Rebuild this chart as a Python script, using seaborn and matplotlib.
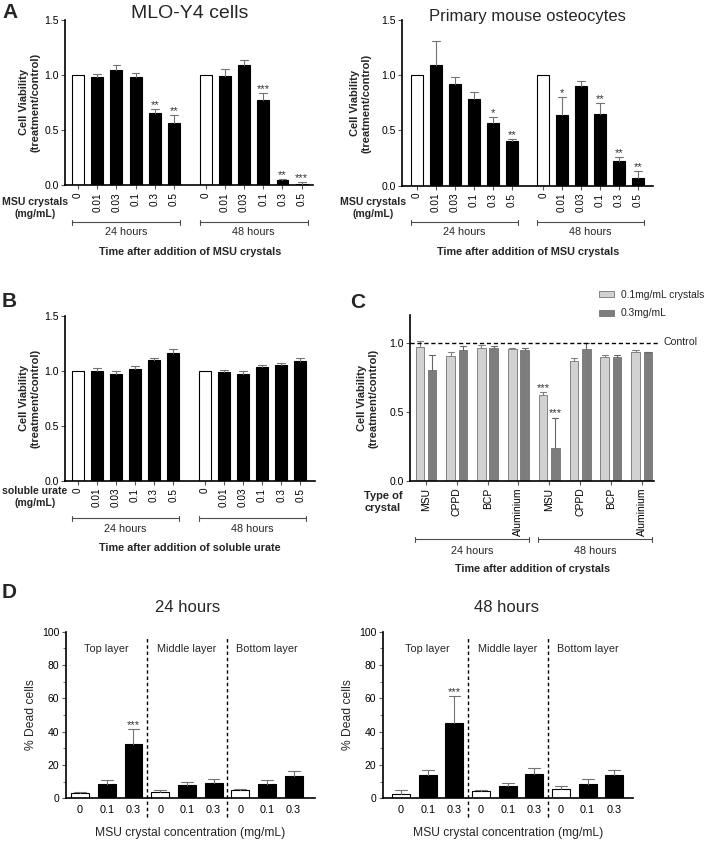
import numpy as np
import pandas as pd
import matplotlib.pyplot as plt
import seaborn as sns

# ---------------- data ----------------
conc = ['0', '0.01', '0.03', '0.1', '0.3', '0.5']

# A, MLO-Y4 cells + MSU crystals
mlo_24 = [1.0, 0.98, 1.05, 0.985, 0.655, 0.565]
mlo_24_err = [0.0, 0.025, 0.04, 0.03, 0.035, 0.07]
mlo_48 = [1.0, 0.995, 1.09, 0.775, 0.045, 0.006]
mlo_48_err = [0.0, 0.06, 0.048, 0.058, 0.008, 0.018]
mlo_sig = ['', '', '', '', '**', '**', '', '', '', '***', '**', '***']

# A, primary mouse osteocytes + MSU crystals
pri_24 = [1.0, 1.09, 0.918, 0.788, 0.57, 0.403]
pri_24_err = [0.0, 0.22, 0.067, 0.062, 0.05, 0.017]
pri_48 = [1.0, 0.642, 0.906, 0.652, 0.227, 0.073]
pri_48_err = [0.0, 0.16, 0.046, 0.098, 0.037, 0.06]
pri_sig = ['', '', '', '', '*', '**', '', '*', '', '**', '**', '**']

# B, soluble urate
ur_24 = [1.0, 1.0, 0.976, 1.018, 1.097, 1.166]
ur_24_err = [0.0, 0.027, 0.024, 0.03, 0.023, 0.036]
ur_48 = [1.0, 0.994, 0.97, 1.033, 1.057, 1.088]
ur_48_err = [0.0, 0.012, 0.03, 0.018, 0.013, 0.03]
ur_sig = [''] * 12

# C, crystal types
crystals = ['MSU', 'CPPD', 'BCP', 'Aluminium']
dose_names = ['0.1mg/mL crystals', '0.3mg/mL']
lo_24 = [0.969, 0.906, 0.959, 0.957]
lo_24_err = [0.043, 0.029, 0.022, 0.005]
hi_24 = [0.80, 0.945, 0.964, 0.945]
hi_24_err = [0.111, 0.033, 0.009, 0.016]
lo_48 = [0.619, 0.87, 0.899, 0.935]
lo_48_err = [0.02, 0.02, 0.009, 0.014]
hi_48 = [0.239, 0.952, 0.899, 0.93]
hi_48_err = [0.216, 0.048, 0.014, 0.005]
lo_sig = ['', '', '', '', '***', '', '', '']
hi_sig = ['', '', '', '', '***', '', '', '']

# D, dead cells per layer
dose = ['0', '0.1', '0.3']
layers = ['Top layer', 'Middle layer', 'Bottom layer']
d24 = [3.2, 8.4, 32.6, 3.8, 7.8, 9.0, 4.8, 8.6, 13.2]
d24_err = [0.8, 2.6, 9.0, 1.2, 1.8, 2.4, 0.6, 2.4, 3.0]
d24_sig = ['', '', '***', '', '', '', '', '', '']
d48 = [2.8, 13.8, 45.0, 4.2, 7.4, 14.6, 5.6, 8.6, 14.0]
d48_err = [2.0, 3.2, 16.4, 0.8, 1.6, 3.6, 1.8, 2.8, 2.8]
d48_sig = ['', '', '***', '', '', '', '', '', '']

# ---------------- style ----------------
sns.set_style('ticks')
plt.rcParams['font.family'] = ['Liberation Sans', 'DejaVu Sans']
plt.rcParams['axes.linewidth'] = 1.2
plt.rcParams['axes.edgecolor'] = 'black'
plt.rcParams['xtick.color'] = '0.35'
plt.rcParams['ytick.color'] = '0.35'
plt.rcParams['xtick.labelcolor'] = 'black'
plt.rcParams['ytick.labelcolor'] = 'black'
plt.rcParams['xtick.major.size'] = 3
plt.rcParams['ytick.major.size'] = 3
plt.rcParams['xtick.major.pad'] = 2
plt.rcParams['ytick.major.pad'] = 1.5

W, H = 709, 842
fig = plt.figure(figsize=(W / 100, H / 100), dpi=100)
ERR = '0.45'


def box(r):
    l, t, rr, b = r
    return [l / W, 1 - b / H, (rr - l) / W, (b - t) / H]


def yfrac(r, ypx):
    return (r[3] - ypx) / (r[3] - r[1])


def ftext(x, y, s, **kw):
    fig.text(x / W, 1 - y / H, s, **kw)


def add_err(ax, xs, ys, es, cw, color=ERR):
    for x, y, e in zip(xs, ys, es):
        if e <= 0:
            continue
        ax.plot([x, x], [y, y + e], color=color, lw=0.8, zorder=3)
        ax.plot([x - cw, x + cw], [y + e, y + e], color=color, lw=0.8, zorder=3)


def add_sig(ax, xs, ys, es, sig, off):
    for x, y, e, s in zip(xs, ys, es, sig):
        if s:
            ax.text(x, y + e + off, s, ha='center', va='bottom', fontsize=8,
                    color='0.2')


def bracket(ax, r, x0, x1, ypx):
    y = yfrac(r, ypx)
    tr = ax.get_xaxis_transform()
    kw = dict(transform=tr, clip_on=False, color='0.3', lw=0.8)
    ax.plot([x0, x1], [y, y], **kw)
    d = 2.5 / (r[3] - r[1])
    ax.plot([x0, x0], [y - d, y + d], **kw)
    ax.plot([x1, x1], [y - d, y + d], **kw)


GAP = 6.65
W_BAR = 0.62


def viab_panel(r, m24, e24, m48, e48, sig, xlim, ys):
    ax = fig.add_axes(box(r))
    pos = np.r_[np.arange(6), np.arange(6) + GAP]
    vals = m24 + m48
    errs = e24 + e48
    df = pd.DataFrame({'pos': pos, 'val': vals,
                       'grp': (['ctrl'] + ['trt'] * 5) * 2})
    sns.barplot(data=df, x='pos', y='val', hue='grp',
                palette={'ctrl': 'white', 'trt': 'black'},
                native_scale=True, dodge=False, width=W_BAR, orient='x',
                edgecolor='black', linewidth=0.8, errorbar=None,
                legend=False, ax=ax)
    add_err(ax, pos, vals, errs, 0.2)
    add_sig(ax, pos, vals, errs, sig, -0.01)
    ax.set_xlim(*xlim)
    ax.set_ylim(0, 1.5)
    ax.set_yticks([0, 0.5, 1.0, 1.5])
    ax.set_yticklabels(['0.0', '0.5', '1.0', '1.5'], fontsize=7.5)
    ax.set_xticks(pos)
    ax.set_xticklabels(conc * 2, rotation=90, fontsize=7.2)
    ax.set_xlabel('')
    ax.set_ylabel('')
    sns.despine(ax=ax)
    h = W_BAR / 2
    bracket(ax, r, -h, 5 + h, ys[0])
    bracket(ax, r, GAP - h, GAP + 5 + h, ys[0])
    tr = ax.get_xaxis_transform()
    ax.text(2.5, yfrac(r, ys[1]), '24 hours', transform=tr, ha='center',
            va='center', fontsize=7.8)
    ax.text(GAP + 2.5, yfrac(r, ys[1]), '48 hours', transform=tr,
            ha='center', va='center', fontsize=7.8)
    return ax


# ---------------- panel A ----------------
rA1 = (65, 20, 313, 185)
viab_panel(rA1, mlo_24, mlo_24_err, mlo_48, mlo_48_err, mlo_sig,
           (-0.68, 12.24), (222, 232))
ftext(190, 14, 'MLO-Y4 cells', ha='center', va='center', fontsize=14)
ftext(30, 102, 'Cell Viability\n(treatment/control)', rotation=90,
      ha='center', va='center', fontsize=8, fontweight='bold',
      multialignment='center')
ftext(35, 208, 'MSU crystals\n(mg/mL)', ha='center', va='center',
      fontsize=7.6, fontweight='bold', multialignment='center')
ftext(190, 252, 'Time after addition of MSU crystals', ha='center',
      va='center', fontsize=7.8, fontweight='bold')

rA2 = (402, 20, 653, 185.7)
viab_panel(rA2, pri_24, pri_24_err, pri_48, pri_48_err, pri_sig,
           (-0.79, 12.44), (222, 232))
ftext(527, 16, 'Primary mouse osteocytes', ha='center', va='center',
      fontsize=12)
ftext(361, 103, 'Cell Viability\n(treatment/control)', rotation=90,
      ha='center', va='center', fontsize=8, fontweight='bold',
      multialignment='center')
ftext(373, 208, 'MSU crystals\n(mg/mL)', ha='center', va='center',
      fontsize=7.6, fontweight='bold', multialignment='center')
ftext(528, 252, 'Time after addition of MSU crystals', ha='center',
      va='center', fontsize=7.8, fontweight='bold')

# ---------------- panel B ----------------
rB = (65, 316, 315, 480.7)
viab_panel(rB, ur_24, ur_24_err, ur_48, ur_48_err, ur_sig,
           (-0.66, 12.42), (518, 529))
ftext(30, 398, 'Cell Viability\n(treatment/control)', rotation=90,
      ha='center', va='center', fontsize=8, fontweight='bold',
      multialignment='center')
ftext(35, 497, 'soluble urate\n(mg/mL)', ha='center', va='center',
      fontsize=7.6, fontweight='bold', multialignment='center')
ftext(190, 548, 'Time after addition of soluble urate', ha='center',
      va='center', fontsize=7.8, fontweight='bold')

# ---------------- panel C ----------------
rC = (410, 315, 654, 480.7)
axc = fig.add_axes(box(rC))
grp = np.arange(8)
lo_vals = lo_24 + lo_48
hi_vals = hi_24 + hi_48
lo_errs = lo_24_err + lo_48_err
hi_errs = hi_24_err + hi_48_err
df_c = pd.DataFrame({'grp': np.tile(grp, 2),
                     'dose': [dose_names[0]] * 8 + [dose_names[1]] * 8,
                     'val': lo_vals + hi_vals})
sns.barplot(data=df_c, x='grp', y='val', hue='dose', hue_order=dose_names,
            palette=['#d2d2d2', '#7d7d7d'], width=0.8, gap=0.3,
            edgecolor='0.45', linewidth=0.6, errorbar=None, ax=axc)
add_err(axc, grp - 0.2, lo_vals, lo_errs, 0.1, '0.5')
add_err(axc, grp + 0.2, hi_vals, hi_errs, 0.1, '0.4')
add_sig(axc, grp - 0.2, lo_vals, lo_errs, lo_sig, -0.005)
add_sig(axc, grp + 0.2, hi_vals, hi_errs, hi_sig, -0.005)
axc.set_xlim(-0.52, 7.4)
axc.set_ylim(0, 1.2)
axc.set_yticks([0, 0.5, 1.0])
axc.set_yticklabels(['0.0', '0.5', '1.0'], fontsize=7.5)
axc.set_xticks(grp)
axc.set_xticklabels(crystals * 2, rotation=90, fontsize=7.5)
axc.set_xlabel('')
axc.set_ylabel('')
sns.despine(ax=axc)
axc.plot([-0.52, 7.6], [1, 1], ls=(0, (3, 2)), color='black', lw=1.0,
         clip_on=False, zorder=4)
ftext(663, 342, 'Control', ha='left', va='center', fontsize=7.6)
hd, lb = axc.get_legend_handles_labels()
axc.legend(hd, lb, loc='upper left', bbox_to_anchor=(599 / W, 1 - 290 / H),
           bbox_transform=fig.transFigure, frameon=False, fontsize=7.4,
           handlelength=1.5, handleheight=0.5, labelspacing=0.8,
           handletextpad=0.6, borderpad=0, borderaxespad=0)
bracket(axc, rC, -0.35, 3.35, 539)
bracket(axc, rC, 3.65, 7.35, 539)
trc = axc.get_xaxis_transform()
axc.text(1.5, yfrac(rC, 551), '24 hours', transform=trc, ha='center',
         va='center', fontsize=7.8)
axc.text(5.5, yfrac(rC, 551), '48 hours', transform=trc, ha='center',
         va='center', fontsize=7.8)
ftext(368, 398, 'Cell Viability\n(treatment/control)', rotation=90,
      ha='center', va='center', fontsize=8, fontweight='bold',
      multialignment='center')
ftext(383, 502, 'Type of\ncrystal', ha='center', va='center',
      fontsize=8, fontweight='bold', multialignment='center')
ftext(533, 569, 'Time after addition of crystals', ha='center',
      va='center', fontsize=7.8, fontweight='bold')


# ---------------- panel D ----------------
def dead_panel(r, vals, errs, sig, xlim, title, title_x):
    ax = fig.add_axes(box(r))
    pos = np.arange(9)
    df = pd.DataFrame({'pos': pos, 'val': vals,
                       'grp': (['ctrl', 'msu', 'msu']) * 3})
    sns.barplot(data=df, x='pos', y='val', hue='grp',
                palette={'ctrl': 'white', 'msu': 'black'},
                dodge=False, width=0.67, edgecolor='black', linewidth=0.8,
                errorbar=None, legend=False, ax=ax)
    add_err(ax, pos, vals, errs, 0.22)
    add_sig(ax, pos, vals, errs, sig, -0.5)
    ax.set_xlim(*xlim)
    ax.set_ylim(0, 100)
    ax.set_yticks(range(0, 101, 20))
    ax.set_yticks(range(10, 100, 20), minor=True)
    ax.tick_params(axis='y', which='minor', length=2, color='0.35')
    ax.tick_params(axis='y', labelsize=7.5)
    ax.set_xticks(pos)
    ax.set_xticklabels(dose * 3, fontsize=7.8)
    ax.tick_params(axis='x', length=0, pad=5)
    ax.set_xlabel('')
    ax.set_ylabel('')
    sns.despine(ax=ax)
    for xv in (2.5, 5.5):
        ax.plot([xv, xv], [-11, 97], ls=(0, (2.5, 2)), color='black',
                lw=1.0, clip_on=False)
    for xv, lab in zip((1, 4, 7), layers):
        ax.text(xv, 89.5, lab, ha='center', va='center', fontsize=7.8,
                color='0.15')
    cx = (r[0] + r[2]) / 2
    ftext(cx, 833, 'MSU crystal concentration (mg/mL)', ha='center',
          va='center', fontsize=8.7)
    ftext(r[0] - 35, 715, '% Dead cells', rotation=90, ha='center',
          va='center', fontsize=8.7)
    ftext(title_x, 607, title, ha='center', va='center', fontsize=12)
    return ax


rD1 = (65.7, 631.7, 315, 798.3)
dead_panel(rD1, d24, d24_err, d24_sig, (-0.54, 8.8), '24 hours', 188)
rD2 = (382.7, 631.7, 632.7, 798.3)
dead_panel(rD2, d48, d48_err, d48_sig, (-0.69, 8.69), '48 hours', 507)

# panel letters
for x, y, s in [(10, 12.5, 'A'), (9, 301.5, 'B'), (358, 302.5, 'C'),
                (9, 592.5, 'D')]:
    ftext(x, y, s, ha='center', va='center', fontsize=15, fontweight='bold')

fig.savefig('out.png', dpi=100)
